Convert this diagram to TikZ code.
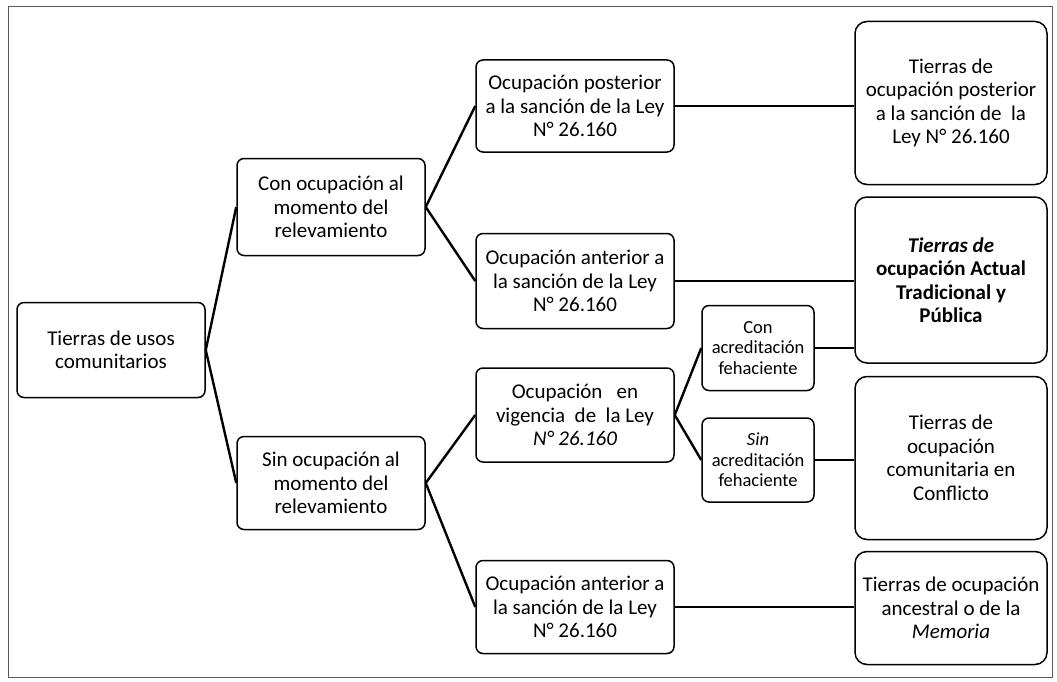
\documentclass[tikz,border=0pt]{standalone}
\usepackage{fontspec}
\setmainfont{Carlito}
\begin{document}
\begin{tikzpicture}[
        x=1pt, y=-1pt,
        font=\fontsize{21}{23.5}\selectfont,
        caja/.style={draw, rounded corners=7pt, line width=1.5pt, align=center, inner sep=0pt, fill=white},
        cajachica/.style={caja, font=\fontsize{18.5}{20.5}\selectfont},
        cajagrande/.style={caja, rounded corners=12pt, minimum width=192},
        rama/.style={line width=2.4pt}
    ]
    \def\anchocol{198}
    \useasboundingbox (0,0) rectangle (1057,682);

    %Marco
    \draw[line width=0.8pt, gray!70!black] (8,6) rectangle (1052,677);

    %Primer nivel
    \node[caja, minimum width=188, minimum height=95] (raiz) at (111,350) {Tierras de usos\\comunitarios};
    \node[caja, minimum width=188, minimum height=97] (con) at (331,207) {Con ocupación al\\momento del\\relevamiento};
    \node[caja, minimum width=188, minimum height=93] (sin) at (331,483) {Sin ocupación al\\momento del\\relevamiento};

    %Segundo nivel
    \node[caja, minimum width=\anchocol, minimum height=92] (post) at (575,106) {Ocupación posterior\\a la sanción de la Ley\\N° 26.160};
    \node[caja, minimum width=\anchocol, minimum height=95] (anta) at (575,281) {Ocupación anterior a\\la sanción de la Ley\\N° 26.160};
    \node[caja, minimum width=\anchocol, minimum height=94] (vig) at (575,415) {Ocupación~~ en\\vigencia~ de~ la Ley\\\textit{N° 26.160}};
    \node[caja, minimum width=\anchocol, minimum height=93] (antb) at (575,607) {Ocupación anterior a\\la sanción de la Ley\\N° 26.160};

    \node[cajachica, minimum width=112, minimum height=85] (conacr) at (758,348) {Con\\acreditación\\fehaciente};
    \node[cajachica, minimum width=112, minimum height=84] (sinacr) at (758,460) {\textit{Sin}\\acreditación\\fehaciente};

    %Resultados
    \node[cajagrande, minimum height=163] (tpost) at (951,103) {Tierras de\\ocupación posterior\\a la sanción de~ la\\Ley N° 26.160};
    \node[cajagrande, minimum height=166] (tact) at (951,280) {\textbf{\textit{Tierras de}}\\\textbf{ocupación Actual}\\\textbf{Tradicional y}\\\textbf{Pública}};
    \node[cajagrande, minimum height=163] (tconf) at (951,458) {Tierras de\\ocupación\\comunitaria en\\Conflicto};
    \node[cajagrande, minimum height=113] (tanc) at (951,608) {Tierras de ocupación\\ancestral o de la\\\textit{Memoria}};

    %Ramas
    \draw[rama] (raiz.east) -- (con.west);
    \draw[rama] (raiz.east) -- (sin.west);
    \draw[rama] (con.east) -- (post.west);
    \draw[rama] (con.east) -- (anta.west);
    \draw[rama] (sin.east) -- (vig.west);
    \draw[rama] (sin.east) -- (antb.west);
    \draw[rama] (vig.east) -- (conacr.west);
    \draw[rama] (vig.east) -- (sinacr.west);

    \draw[rama] (post.east) -- (post.east -| tpost.west);
    \draw[rama] (anta.east) -- (anta.east -| tact.west);
    \draw[rama] (conacr.east) -- (conacr.east -| tact.west);
    \draw[rama] (sinacr.east) -- (sinacr.east -| tconf.west);
    \draw[rama] (antb.east) -- (antb.east -| tanc.west);
\end{tikzpicture}
\end{document}
